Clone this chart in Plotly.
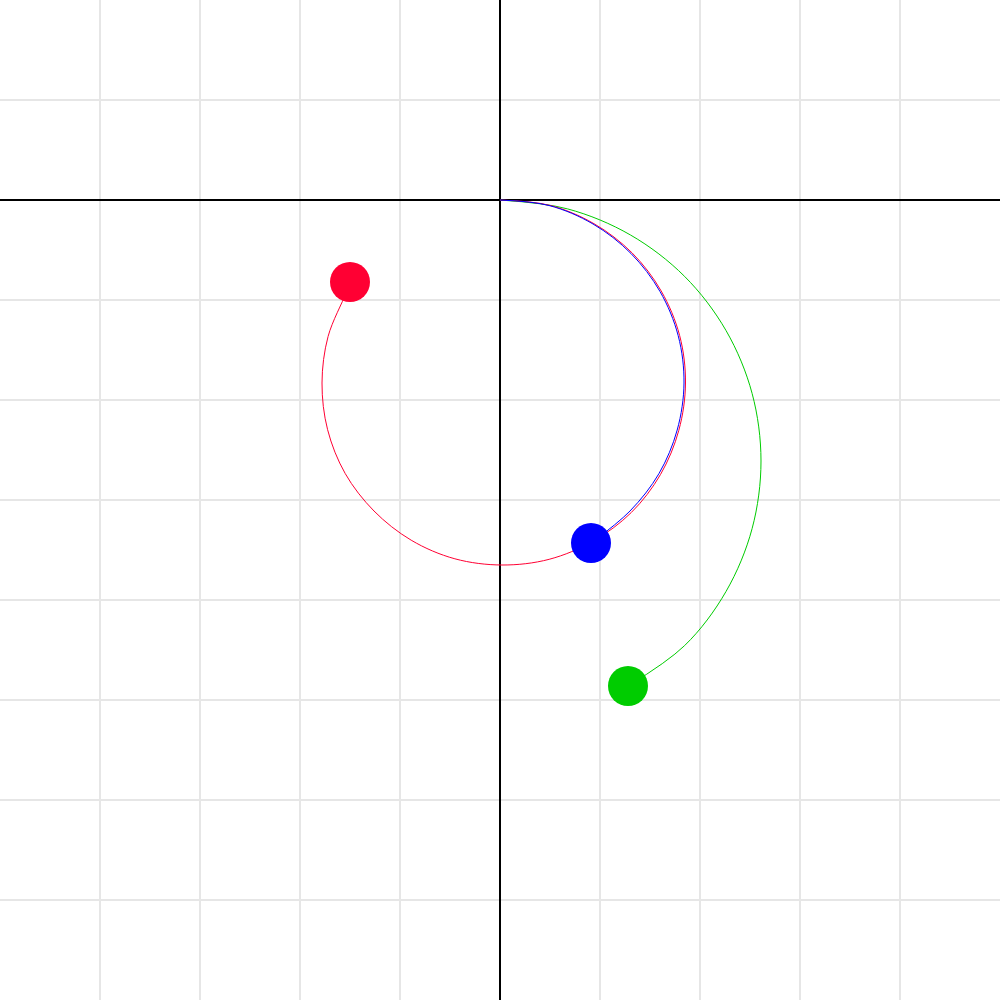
import plotly.graph_objects as go

# Path of the red body (data units)
red_x = [0, 0.496, 0.94, 1.321, 1.612, 1.796, 1.855, 1.788, 1.605, 1.314, 0.933, 0.492, 0.02,
         -0.451, -0.888, -1.26, -1.548, -1.724, -1.78, -1.719, -1.539, -1.5]
red_y = [0, -0.053, -0.237, -0.529, -0.91, -1.354, -1.83, -2.304, -2.745, -3.124, -3.41, -3.593, -3.65,
         -3.588, -3.402, -3.11, -2.735, -2.297, -1.83, -1.364, -0.93, -0.82]

# Path of the blue body
blue_x = [0, 0.49, 0.93, 1.31, 1.6, 1.782, 1.84, 1.772, 1.59, 1.30, 0.91]
blue_y = [0, -0.055, -0.24, -0.535, -0.915, -1.357, -1.83, -2.30, -2.735, -3.11, -3.43]

# Path of the green body
green_x = [0, 0.676, 1.305, 1.846, 2.26, 2.521, 2.61, 2.521, 2.26, 1.846, 1.28]
green_y = [0, -0.089, -0.35, -0.764, -1.305, -1.934, -2.61, -3.286, -3.915, -4.456, -4.86]

RED = "#ff0033"
BLUE = "#0000ff"
GREEN = "#00cc00"

fig = go.Figure()
for xs, ys, col in [(green_x, green_y, GREEN), (red_x, red_y, RED), (blue_x, blue_y, BLUE)]:
    fig.add_trace(go.Scatter(x=xs, y=ys, mode="lines",
                             line=dict(color=col, width=1, shape="spline", smoothing=1.0),
                             hoverinfo="skip"))
for xs, ys, col in [(green_x, green_y, GREEN), (red_x, red_y, RED), (blue_x, blue_y, BLUE)]:
    fig.add_trace(go.Scatter(x=[xs[-1]], y=[ys[-1]], mode="markers",
                             marker=dict(color=col, size=40, line=dict(width=0))))

fig.update_layout(
    width=1000, height=1000,
    margin=dict(l=0, r=0, t=0, b=0),
    paper_bgcolor="white", plot_bgcolor="white",
    showlegend=False,
    xaxis=dict(range=[-5, 5], dtick=1, tick0=0, showticklabels=False, ticks="", side="top",
               showline=True, linecolor="#cccccc", linewidth=2,
               showgrid=True, gridcolor="#e6e6e6", gridwidth=2,
               zeroline=True, zerolinecolor="black", zerolinewidth=2, fixedrange=True),
    yaxis=dict(range=[-8, 2], dtick=1, tick0=0, showticklabels=False, ticks="",
               showline=True, linecolor="#cccccc", linewidth=2,
               showgrid=True, gridcolor="#e6e6e6", gridwidth=2,
               zeroline=True, zerolinecolor="black", zerolinewidth=2, fixedrange=True),
)

fig.write_html("out.html", config={"displayModeBar": False},
               post_script="document.body.style.margin='0';document.body.style.padding='0';"
                           "document.body.style.overflow='hidden';")
